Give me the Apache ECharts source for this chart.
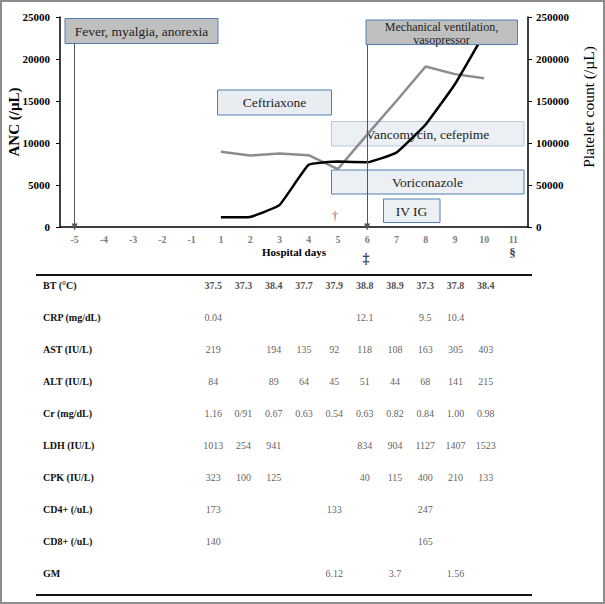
<!DOCTYPE html>
<html>
<head>
<meta charset="utf-8">
<script src="https://cdn.jsdelivr.net/npm/echarts@6/dist/echarts.min.js"></script>
<style>html,body{margin:0;padding:0;background:#fff;}#c{width:605px;height:604px;}</style>
</head>
<body>
<div id="c"></div>
<script>
// ---- chart data ----
const days = ['-5','-4','-3','-2','-1','1','2','3','4','5','6','7','8','9','10','11'];
const ancValues = [null,null,null,null,null,1150,1200,2600,7400,7800,7700,8850,12200,17000,23000,null];
const plateletValues = [null,null,null,null,null,89500,85000,87500,85500,69000,110000,150000,191000,182000,177000,null];
const ancTicks = [0,5000,10000,15000,20000,25000];
const plateletTicks = [0,50000,100000,150000,200000,250000];

// ---- table data ----
const tableDays = ['1','2','3','4','5','6','7','8','9','10'];
const rowLabels = ['BT (\u00B0C)','CRP (mg/dL)','AST (IU/L)','ALT (IU/L)','Cr (mg/dL)','LDH (IU/L)','CPK (IU/L)','CD4+ (/uL)','CD8+ (/uL)','GM'];
const btRow  = ['37.5','37.3','38.4','37.7','37.9','38.8','38.9','37.3','37.8','38.4'];
const crpRow = ['0.04','','','','','12.1','','9.5','10.4',''];
const astRow = ['219','','194','135','92','118','108','163','305','403'];
const altRow = ['84','','89','64','45','51','44','68','141','215'];
const crRow  = ['1.16','0/91','0.67','0.63','0.54','0.63','0.82','0.84','1.00','0.98'];
const ldhRow = ['1013','254','941','','','834','904','1127','1407','1523'];
const cpkRow = ['323','100','125','','','40','115','400','210','133'];
const cd4Row = ['173','','','','133','','','247','',''];
const cd8Row = ['140','','','','','','','165','',''];
const gmRow  = ['','','','','6.12','','3.7','','1.56',''];
const tableRows = [btRow,crpRow,astRow,altRow,crRow,ldhRow,cpkRow,cd4Row,cd8Row,gmRow];

const SERIF = '"Liberation Serif", "Times New Roman", serif';

const cellData = [];
tableRows.forEach((row, r) => {
  row.forEach((v, c) => {
    if (v !== '') {
      cellData.push({
        value: [c, r, v],
        label: { fontWeight: r === 0 ? 'bold' : 'normal', color: r === 0 ? '#222' : '#333' }
      });
    }
  });
});

function box(x, y, w, h, fill, stroke, z) {
  return { type: 'rect', z: z, shape: { x: x, y: y, width: w, height: h },
           style: { fill: fill, stroke: stroke, lineWidth: 1 } };
}
function txt(x, y, s, size, z, extra) {
  return { type: 'text', z: z, x: x, y: y,
    style: Object.assign({ text: s, fontFamily: SERIF, fontSize: size, fill: '#222', align: 'center', verticalAlign: 'middle' }, extra || {}) };
}

const chart = echarts.init(document.getElementById('c'), null, { renderer: 'svg' });
chart.setOption({
  animation: false,
  backgroundColor: '#fff',
  grid: [
    { left: 60, right: 77, top: 17, bottom: 377, containLabel: false, outerBoundsMode: 'none' },
    { left: 198, right: 104, top: 269, height: 320, containLabel: false, outerBoundsMode: 'none' }
  ],
  xAxis: [
    { type: 'category', gridIndex: 0, data: days, boundaryGap: true,
      axisLine: { lineStyle: { color: '#000', width: 1.5 } },
      axisTick: { show: false },
      axisLabel: { color: '#808080', fontWeight: 'bold', fontFamily: SERIF, fontSize: 10, margin: 7 },
      name: 'Hospital days', nameLocation: 'middle', nameGap: 19, nameMoveOverlap: false,
      nameTextStyle: { color: '#000', fontWeight: 'bold', fontFamily: SERIF, fontSize: 11 } },
    { type: 'category', gridIndex: 1, data: tableDays, show: false }
  ],
  yAxis: [
    { type: 'value', gridIndex: 0, min: ancTicks[0], max: ancTicks[ancTicks.length-1], interval: 5000,
      axisLine: { show: true, lineStyle: { color: '#000', width: 1.5 } },
      axisTick: { show: true, length: 4, lineStyle: { color: '#000' } },
      splitLine: { show: false },
      axisLabel: { color: '#000', fontWeight: 'bold', fontFamily: SERIF, fontSize: 11, margin: 10, formatter: v => String(v) },
      name: 'ANC (/\u00B5L)', nameLocation: 'middle', nameGap: 39, nameMoveOverlap: false,
      nameTextStyle: { color: '#000', fontWeight: 'bold', fontFamily: SERIF, fontSize: 15 } },
    { type: 'value', gridIndex: 0, position: 'right', min: plateletTicks[0], max: plateletTicks[plateletTicks.length-1], interval: 50000,
      axisLine: { show: true, lineStyle: { color: '#000', width: 1.5 } },
      axisTick: { show: true, length: 4, lineStyle: { color: '#000' } },
      splitLine: { show: false },
      axisLabel: { color: '#000', fontWeight: 'bold', fontFamily: SERIF, fontSize: 11, margin: 8, formatter: v => String(v) },
      name: 'Platelet count (/\u00B5L)', nameLocation: 'middle', nameGap: 52, nameMoveOverlap: false,
      nameTextStyle: { color: '#000', fontFamily: SERIF, fontSize: 15.5, padding: [0, 0, 0, 30] } },
    { type: 'category', gridIndex: 1, data: rowLabels, inverse: true,
      axisLine: { show: false }, axisTick: { show: false }, splitLine: { show: false },
      axisLabel: { align: 'left', margin: 155, color: '#111', fontWeight: 'bold', fontFamily: SERIF, fontSize: 10 } }
  ],
  series: [
    { name: 'Platelet', type: 'line', xAxisIndex: 0, yAxisIndex: 1, data: plateletValues,
      showSymbol: false, symbol: 'none', z: 3,
      lineStyle: { color: '#8c8c8c', width: 2.5 } },
    { name: 'ANC', type: 'line', xAxisIndex: 0, yAxisIndex: 0, data: ancValues,
      showSymbol: false, symbol: 'none', smooth: 0.1, z: 4,
      lineStyle: { color: '#000', width: 2.5 },
      markLine: {
        silent: true, symbol: ['none', 'triangle'], symbolSize: [6, 7],
        label: { show: false },
        lineStyle: { color: '#555', width: 1, type: 'solid' },
        data: [
          [{ coord: ['-5', 21900] }, { coord: ['-5', 0] }],
          [{ coord: ['6', 21750] }, { coord: ['6', 0] }]
        ]
      } },
    { name: 'table', type: 'scatter', xAxisIndex: 1, yAxisIndex: 2, data: cellData,
      symbol: 'circle', symbolSize: 1, itemStyle: { color: 'rgba(0,0,0,0)' }, silent: true,
      label: { show: true, position: 'inside', formatter: p => p.value[2],
               fontFamily: SERIF, fontSize: 10, color: '#333' } }
  ],
  graphic: { elements: [
    // outer frame
    { type: 'rect', z: 0, shape: { x: 1, y: 1, width: 603, height: 602 }, style: { fill: 'none', stroke: '#8c8c8c', lineWidth: 2 } },
    // annotation boxes
    box(65, 18.5, 153, 25, '#bfbfbf', '#4f7fb5', 1),
    txt(141.5, 31, 'Fever, myalgia, anorexia', 13.5, 1),
    box(217.5, 90, 114, 25, '#e9edf2', '#4f7fb5', 1),
    txt(274.5, 102.5, 'Ceftriaxone', 13.5, 1),
    box(331.5, 121.5, 192.5, 24.5, '#eceff3', '#b7c8dd', 1),
    txt(427.5, 134, 'Vancomycin, cefepime', 13.5, 1),
    box(331.5, 170, 192.5, 24, '#eceff3', '#4f7fb5', 1),
    txt(427.5, 182, 'Voriconazole', 13.5, 1),
    box(383.5, 199, 56.5, 23.5, '#eceff3', '#4f7fb5', 1),
    txt(411.5, 211, 'IV IG', 13.5, 1),
    box(366, 20, 151.5, 24.5, '#bfbfbf', '#4f7fb5', 50),
    txt(441.5, 33.5, 'Mechanical ventilation,\nvasopressor', 12, 51, { lineHeight: 13.5 }),
    // footnote marks
    txt(335, 216, '\u2020', 12, 5, { fill: '#6a6a7a' }),
    txt(366, 258, '\u2021', 14, 5, { fontWeight: 'bold', fill: '#3c3c50' }),
    txt(512.5, 252, '\u00A7', 13, 5, { fontWeight: 'bold', fill: '#3c3c50' }),
    // table rules
    { type: 'line', z: 1, shape: { x1: 36, y1: 275, x2: 532, y2: 275 }, style: { stroke: '#111', lineWidth: 2 } },
    { type: 'line', z: 1, shape: { x1: 36, y1: 595, x2: 532, y2: 595 }, style: { stroke: '#111', lineWidth: 2 } }
  ] }
});
</script>
</body>
</html>
